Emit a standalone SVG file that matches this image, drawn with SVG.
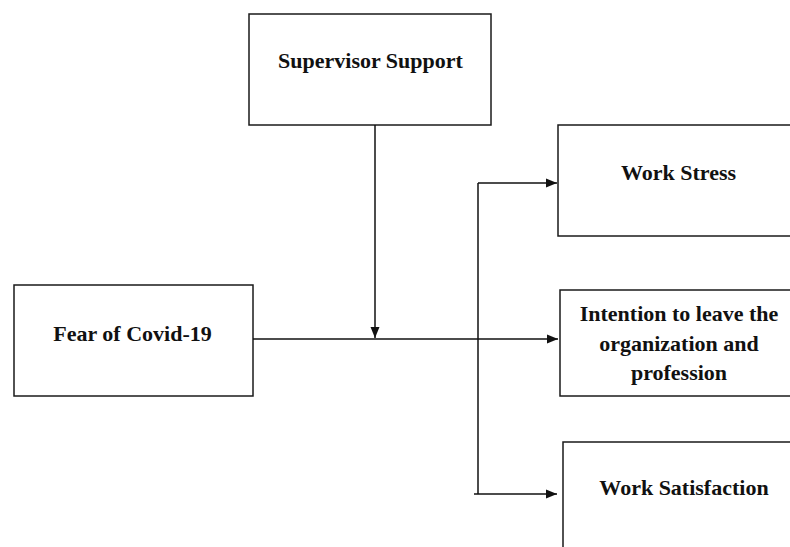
<svg xmlns="http://www.w3.org/2000/svg" width="790" height="547" viewBox="0 0 790 547">
<style>
.box{fill:#fff;stroke:#1a1a1a;stroke-width:1.5}
.t{font-family:"Liberation Serif","Times New Roman",serif;font-weight:bold;font-size:22px;fill:#111;text-anchor:middle}
.c{fill:none;stroke:#111;stroke-width:1.5}
</style>
<defs>
<marker id="ah" markerUnits="userSpaceOnUse" markerWidth="12" markerHeight="10" refX="11" refY="5" orient="auto">
<path d="M0,0.5 L11,5 L0,9.5 Z" fill="#111"/>
</marker>
</defs>
<rect width="790" height="547" fill="#fff"/>
<g id="supervisor-support">
<rect class="box" x="249" y="14" width="242" height="111"/>
<text class="t" x="370.5" y="68">Supervisor Support</text>
</g>
<g id="work-stress">
<rect class="box" x="558" y="125" width="240" height="111"/>
<text class="t" x="678.5" y="180">Work Stress</text>
</g>
<g id="fear-covid">
<rect class="box" x="14" y="285" width="239" height="111"/>
<text class="t" x="132.5" y="341">Fear of Covid-19</text>
</g>
<g id="intention-leave">
<rect class="box" x="560" y="290" width="240" height="106"/>
<text class="t" x="679" y="321">Intention to leave the</text>
<text class="t" x="679" y="351">organization and</text>
<text class="t" x="679" y="380">profession</text>
</g>
<g id="work-satisfaction">
<rect class="box" x="563" y="442" width="240" height="120"/>
<text class="t" x="684" y="495">Work Satisfaction</text>
</g>
<g id="connectors">
<path class="c" d="M375,125 V338" marker-end="url(#ah)"/>
<path class="c" d="M253,339 H558" marker-end="url(#ah)"/>
<path class="c" d="M478,183 V494"/>
<path class="c" d="M478,183 H557" marker-end="url(#ah)"/>
<path class="c" d="M474,494 H557" marker-end="url(#ah)"/>
</g>
</svg>
